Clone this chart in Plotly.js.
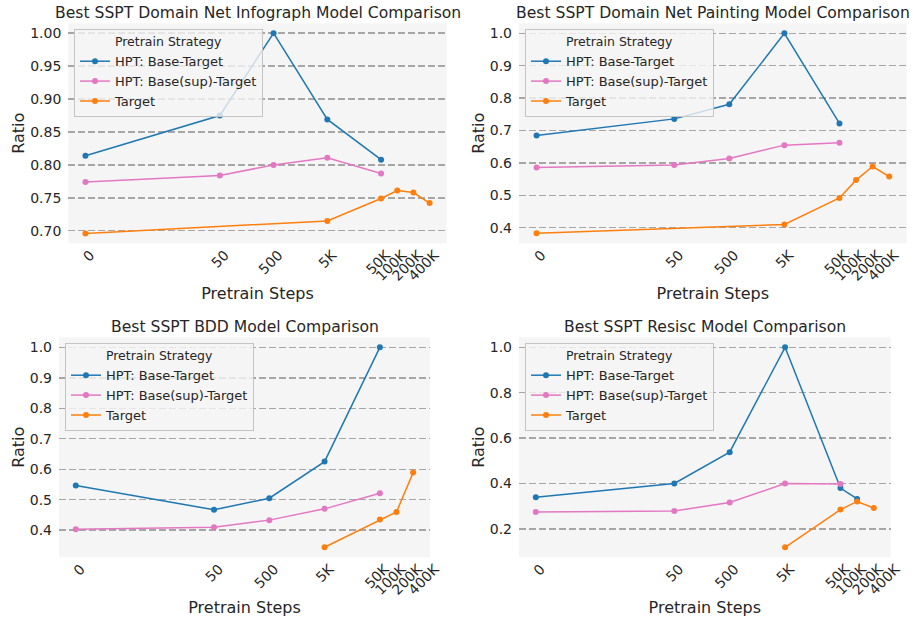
<!DOCTYPE html>
<html><head><meta charset="utf-8">
<script src="https://cdn.plot.ly/plotly-3.0.1.min.js"></script>
<style>body{margin:0;padding:0;background:#fff}</style>
</head><body>
<div id="chart" style="width:913px;height:619px"></div>
<script>
// Pretrain step categories (0 placed on the log axis at a small positive value)
const stepLabels = ['0','50','500','5K','50K','100K','200K','400K'];
const stepPos = [0.158, 50, 500, 5000, 50000, 100000, 200000, 400000];

// Panel 1: Domain Net Infograph
const infoBase   = [0.814, 0.875, 1.000, 0.869, 0.808, null, null, null];
const infoSup    = [0.774, 0.784, 0.800, 0.811, 0.787, null, null, null];
const infoTarget = [0.696, null, null, 0.715, 0.749, 0.761, 0.758, 0.742];

// Panel 2: Domain Net Painting
const paintBase   = [0.685, 0.736, 0.781, 1.000, 0.722, null, null, null];
const paintSup    = [0.586, 0.594, 0.614, 0.655, 0.662, null, null, null];
const paintTarget = [0.383, null, null, 0.410, 0.492, 0.547, 0.589, 0.558];

// Panel 3: BDD
const bddBase   = [0.547, 0.467, 0.505, 0.625, 1.000, null, null, null];
const bddSup    = [0.403, 0.410, 0.433, 0.470, 0.521, null, null, null];
const bddTarget = [null, null, null, 0.344, 0.435, 0.460, 0.589, null];

// Panel 4: Resisc
const resBase   = [0.339, 0.400, 0.538, 1.000, 0.380, 0.332, null, null];
const resSup    = [0.275, 0.279, 0.316, 0.400, 0.398, null, null, null];
const resTarget = [null, null, null, 0.119, 0.285, 0.321, 0.292, null];

const titles = ['Best SSPT Domain Net Infograph Model Comparison','Best SSPT Domain Net Painting Model Comparison','Best SSPT BDD Model Comparison','Best SSPT Resisc Model Comparison'];
const seriesNames = ['HPT: Base-Target','HPT: Base(sup)-Target','Target'];
const colors = ['#1f77b4','#e377c2','#ff7f0e'];
const panels = [
  [infoBase, infoSup, infoTarget],
  [paintBase, paintSup, paintTarget],
  [bddBase, bddSup, bddTarget],
  [resBase, resSup, resTarget]
];

const FONT = 'DejaVu Sans, sans-serif';
const TXT = '#262626';

function pairs(vals){
  const xs=[], ys=[];
  vals.forEach((v,i)=>{ if(v!==null){ xs.push(stepPos[i]); ys.push(v);} });
  return {xs, ys};
}

const traces = [];
panels.forEach((p, pi)=>{
  p.forEach((vals, si)=>{
    const d = pairs(vals);
    traces.push({
      x: d.xs, y: d.ys, type:'scatter', mode:'lines+markers',
      name: seriesNames[si],
      line:{color:colors[si], width:1.5},
      marker:{color:colors[si], size:6},
      xaxis: pi===0?'x':'x'+(pi+1),
      yaxis: pi===0?'y':'y'+(pi+1),
      legend: pi===0?'legend':'legend'+(pi+1),
      hoverinfo:'x+y'
    });
  });
});

const px = v => v/913, py = v => 1 - v/619;
const dom = [
  {x:[px(68.3),px(446.7)], y:[py(243.3),py(23.3)]},
  {x:[px(519),px(906.7)], y:[py(243.3),py(23.3)]},
  {x:[px(59),px(430)], y:[py(557.3),py(337.3)]},
  {x:[px(519),px(890.7)], y:[py(557.3),py(337.3)]}
];
const xr = [[-1.12,5.92],[-1.12,5.92],[-1.105,5.606],[-1.105,5.606]];
const yr = [[0.681,1.015],[0.352,1.031],[0.311,1.033],[0.075,1.044]];
const ytv = [[0.70,0.75,0.80,0.85,0.90,0.95,1.00],[0.4,0.5,0.6,0.7,0.8,0.9,1.0],[0.4,0.5,0.6,0.7,0.8,0.9,1.0],[0.2,0.4,0.6,0.8,1.0]];
const ytt = [['0.70','0.75','0.80','0.85','0.90','0.95','1.00'],['0.4','0.5','0.6','0.7','0.8','0.9','1.0'],['0.4','0.5','0.6','0.7','0.8','0.9','1.0'],['0.2','0.4','0.6','0.8','1.0']];
const legPos = [[74,29],[525,29],[65,343],[525,343]];

const layout = {
  width:913, height:619,
  margin:{l:0,r:0,t:0,b:0},
  paper_bgcolor:'#ffffff',
  plot_bgcolor:'#f5f5f5',
  font:{family:FONT, color:TXT, size:14},
  showlegend:true,
  annotations:[],
  shapes:[]
};

for(let i=0;i<4;i++){
  const s = i===0?'':(i+1);
  layout['xaxis'+s] = {
    domain: dom[i].x, anchor: 'y'+s, type:'log', range: xr[i],
    tickmode:'array', tickvals: stepPos, ticktext: stepLabels,
    tickangle:-45, showgrid:false, zeroline:false, showline:false,
    ticks:'', tickfont:{size:14, color:TXT, family:FONT},
    ticklabelshift: 5, ticklabelstandoff: 0,
    title:{text:'Pretrain Steps', font:{size:16, color:TXT, family:FONT}, standoff: 5}
  };
  layout['yaxis'+s] = {
    domain: dom[i].y, anchor: 'x'+s, range: yr[i],
    tickmode:'array', tickvals: ytv[i], ticktext: ytt[i],
    showgrid:true, gridcolor:'#a6a6a6', griddash:'7px,3px', gridwidth:1.4,
    zeroline:false, showline:false, ticks:'', ticklabelstandoff: 6,
    tickfont:{size:14, color:TXT, family:FONT},
    title:{text:'Ratio', font:{size:16, color:TXT, family:FONT}, standoff: 1}
  };
  layout[i===0?'legend':'legend'+(i+1)] = {
    x: px(legPos[i][0]), y: py(legPos[i][1]), xanchor:'left', yanchor:'top',
    xref:'paper', yref:'paper',
    bgcolor:'rgba(245,245,245,0.8)', bordercolor:'#c4c4c4', borderwidth:1,
    font:{size:13, color:TXT, family:FONT},
    title:{text:'Pretrain Strategy', side:'top center', font:{size:12.5, color:TXT, family:FONT}},
    itemwidth:30, tracegroupgap:0
  };
  const d = dom[i];
  layout.annotations.push({
    text: titles[i], xref:'paper', yref:'paper',
    x:(d.x[0]+d.x[1])/2, y:d.y[1], xanchor:'center', yanchor:'bottom', yshift:-1,
    showarrow:false, font:{size:15.6, color:TXT, family:FONT}
  });
}

Plotly.newPlot('chart', traces, layout, {displayModeBar:false, staticPlot:true});
</script>
</body></html>
